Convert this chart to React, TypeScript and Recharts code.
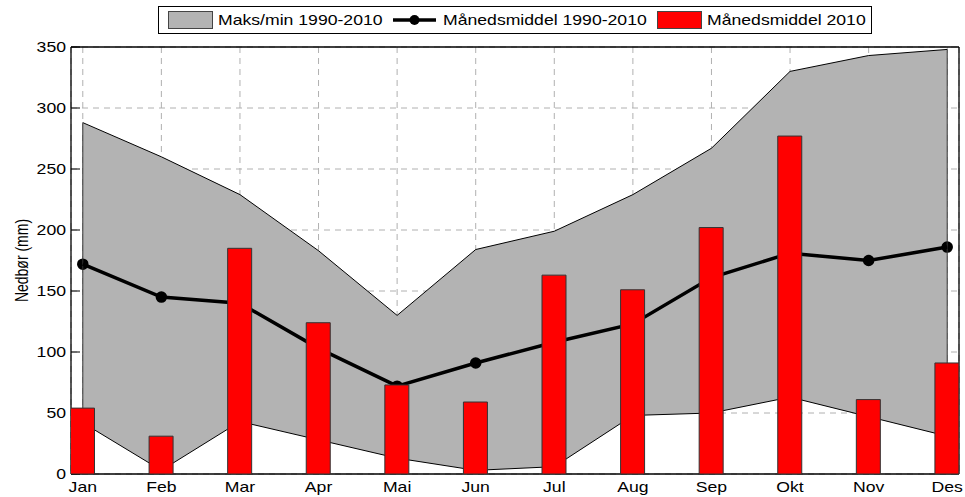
import { ComposedChart, Area, Line, Bar, XAxis, YAxis, CartesianGrid, ReferenceLine } from 'recharts'

const months = ['Jan', 'Feb', 'Mar', 'Apr', 'Mai', 'Jun', 'Jul', 'Aug', 'Sep', 'Okt', 'Nov', 'Des']
const maxVals = [288, 260, 229, 183, 130, 184, 199, 229, 267, 330, 343, 348]
const minVals = [42, 3, 43, 28, 13, 3, 6, 48, 50, 63, 47, 31]
const meanVals = [172, 145, 140, 103, 72, 91, 108, 123, 161, 181, 175, 186]
const obs2010 = [54, 31, 185, 124, 73, 59, 163, 151, 202, 277, 61, 91]
const yTicks = [0, 50, 100, 150, 200, 250, 300, 350]
const xTicks = months.map((_, i) => i + 1)

const data = months.map((m, i) => ({
  x: i + 1,
  month: m,
  range: [minVals[i], maxVals[i]],
  mean: meanVals[i],
  obs: obs2010[i],
}))

const FONT = '"Liberation Sans", Arial, Helvetica, sans-serif'
// the original figure is stretched sideways, so text is widened a bit
const STRETCH = 1.26
const last = months.length - 1

function XTick({ x, y, payload }: any) {
  return (
    <text
      transform={`translate(${x},${y}) scale(${STRETCH},1)`}
      textAnchor="middle"
      dy="0.71em"
      fontSize={14}
      fontFamily={FONT}
      fill="#000"
    >
      {months[payload.value - 1]}
    </text>
  )
}

function YTick({ x, y, payload }: any) {
  return (
    <text
      transform={`translate(${x},${y}) scale(${STRETCH},1)`}
      textAnchor="end"
      dy="0.36em"
      fontSize={14}
      fontFamily={FONT}
      fill="#000"
    >
      {payload.value}
    </text>
  )
}

function ChartLegend() {
  const txt = (x: number, s: string) => (
    <text
      transform={`translate(${x},20) scale(${STRETCH},1)`}
      dy="0.36em"
      fontSize={14}
      fontFamily={FONT}
      fill="#000"
    >
      {s}
    </text>
  )
  return (
    <svg width={965} height={40} style={{ position: 'absolute', left: 0, top: 0 }}>
      <rect x={158.5} y={6.5} width={713} height={27} fill="#fff" stroke="#000" />
      <rect x={168.5} y={11.5} width={44} height={17} fill="#b3b3b3" stroke="#444" />
      {txt(218, 'Maks/min 1990-2010')}
      <line x1={393} y1={20} x2={436} y2={20} stroke="#000" strokeWidth={3.5} />
      <circle cx={414.5} cy={20} r={5} fill="#000" />
      {txt(443, 'Månedsmiddel 1990-2010')}
      <rect x={657.5} y={11.5} width={44} height={17} fill="#ff0000" stroke="#444" />
      {txt(707, 'Månedsmiddel 2010')}
    </svg>
  )
}

export default function App() {
  return (
    <div style={{ position: 'absolute', left: 0, top: 0, width: 965, height: 497, background: '#fff' }}>
      <ComposedChart width={965} height={497} data={data} margin={{ top: 46, right: 5, bottom: 3, left: 21 }}>
        <CartesianGrid stroke="#b0b0b0" strokeDasharray="6 5" />
        <XAxis
          dataKey="x"
          type="number"
          domain={[0.85, 12.15]}
          ticks={xTicks}
          allowDataOverflow
          tick={<XTick />}
          tickLine={false}
          tickSize={6}
          tickMargin={2}
          height={20}
          axisLine={{ stroke: '#000', strokeWidth: 1.3 }}
        />
        <XAxis
          xAxisId="t"
          orientation="top"
          type="number"
          domain={[0.85, 12.15]}
          ticks={xTicks}
          allowDataOverflow
          tick={false}
          tickSize={-9}
          height={1}
          axisLine={{ stroke: '#000', strokeWidth: 1.3 }}
          tickLine={{ stroke: '#000' }}
        />
        <YAxis
          domain={[0, 350]}
          ticks={yTicks}
          allowDataOverflow
          tick={<YTick />}
          tickSize={-9}
          tickMargin={14}
          width={50}
          axisLine={{ stroke: '#000', strokeWidth: 1.3 }}
          tickLine={{ stroke: '#000' }}
          label={({ viewBox }: any) => {
            const cx = viewBox.x + 1
            const cy = viewBox.y + viewBox.height / 2
            return (
              <text
                transform={`translate(${cx},${cy}) rotate(-90) scale(1,${STRETCH})`}
                textAnchor="middle"
                dy="0.36em"
                fontSize={14}
                fontFamily={FONT}
                fill="#000"
              >
                Nedbør (mm)
              </text>
            )
          }}
        />
        <YAxis
          yAxisId="r"
          orientation="right"
          domain={[0, 350]}
          ticks={yTicks}
          allowDataOverflow
          tick={false}
          tickSize={-9}
          width={1}
          axisLine={{ stroke: '#000', strokeWidth: 1.3 }}
          tickLine={{ stroke: '#000' }}
        />
        <Area
          dataKey="range"
          type="linear"
          fill="#b3b3b3"
          fillOpacity={1}
          stroke="#000"
          strokeWidth={1}
          isAnimationActive={false}
          zIndex={600}
        />
        <ReferenceLine
          segment={[{ x: 1, y: minVals[0] }, { x: 1, y: maxVals[0] }]}
          stroke="#333"
          strokeWidth={1}
          zIndex={650}
        />
        <ReferenceLine
          segment={[{ x: last + 1, y: minVals[last] }, { x: last + 1, y: maxVals[last] }]}
          stroke="#333"
          strokeWidth={1}
          zIndex={650}
        />
        <Line
          dataKey="mean"
          type="linear"
          stroke="#000"
          strokeWidth={3.5}
          dot={{ r: 5, fill: '#000', stroke: '#000', strokeWidth: 1.5 }}
          activeDot={false}
          isAnimationActive={false}
          zIndex={700}
        />
        <Bar
          dataKey="obs"
          barSize={24}
          fill="#ff0000"
          stroke="#333"
          strokeWidth={1}
          isAnimationActive={false}
          zIndex={800}
        />
      </ComposedChart>
      <ChartLegend />
    </div>
  )
}
